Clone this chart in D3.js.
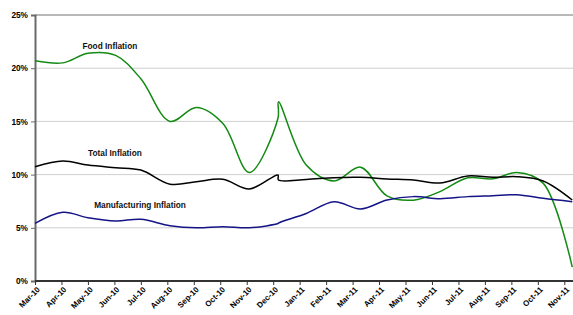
<!DOCTYPE html>
<html><head><meta charset="utf-8">
<script src="https://cdn.jsdelivr.net/npm/d3@7"></script>
<style>body{margin:0;background:#fff}svg{display:block}text{font-family:"Liberation Sans",Arial,sans-serif;font-weight:bold}</style>
</head><body><svg id="c" width="573" height="315"></svg>
<script>
const months = ["Mar-10","Apr-10","May-10","Jun-10","Jul-10","Aug-10","Sep-10","Oct-10","Nov-10","Dec-10","Jan-11","Feb-11","Mar-11","Apr-11","May-11","Jun-11","Jul-11","Aug-11","Sep-11","Oct-11","Nov-11"];
// observation positions (in months from Mar-10)
const obsPos = [0, 1.05, 2, 3.05, 4, 5.1, 6.1, 7.1, 8.1, 9.18, 9.2, 10.25, 11.3, 12.3, 13.3, 14.3, 15.3, 16.35, 17.3, 18.2, 19.2, 20.3];
const foodInflation  = [20.7, 20.5, 21.4, 21.2, 19.0, 15.0, 16.3, 14.8, 10.2, 15.3, 16.85, 10.9, 9.4, 10.7, 8.0, 7.6, 8.4, 9.7, 9.6, 10.2, 9.2, 1.3];
const totalInflation = [10.74, 11.28, 10.9, 10.65, 10.43, 9.1, 9.33, 9.56, 8.65, 9.96, 9.49, 9.55, 9.71, 9.74, 9.59, 9.49, 9.21, 9.87, 9.74, 9.8, 9.4, 7.61];
const manufInflation = [5.42, 6.46, 5.95, 5.64, 5.8, 5.2, 5.0, 5.1, 5.0, 5.4, 5.45, 6.35, 7.45, 6.77, 7.61, 7.93, 7.73, 7.93, 8.02, 8.11, 7.77, 7.45];
const yTicks = [0, 5, 10, 15, 20, 25];
const seriesNames = ["Food Inflation", "Total Inflation", "Manufacturing Inflation"];
const seriesColors = ["#138a13", "#000000", "#141487"];

const svg = d3.select("#c");
const x = d3.scaleLinear().domain([0, 20]).range([35, 564.3]);
const y = d3.scaleLinear().domain([0, 25]).range([281, 15]);

// gridlines
svg.append("g").selectAll("line").data(yTicks.filter(d => d > 0)).join("line")
  .attr("x1", 35).attr("x2", 573)
  .attr("y1", d => y(d)).attr("y2", d => y(d))
  .attr("stroke", d => d === 25 ? "#a0a0a0" : "#cfcfcf").attr("stroke-width", d => d === 25 ? 1.5 : 1);

// y axis
const yAxis = d3.axisLeft(y).tickValues(yTicks).tickFormat(d => d + "%").tickSize(4).tickPadding(3);
const gy = svg.append("g").attr("transform", "translate(35,0)").call(yAxis);
gy.select(".domain").attr("stroke", "#6a6a6a").attr("stroke-width", 2);
gy.selectAll(".tick line").attr("stroke", "#6a6a6a");
gy.selectAll("text").attr("font-size", "8.3px").attr("fill", "#000").style("font-family", "'Liberation Sans',Arial,sans-serif").style("font-weight", "bold");

// x axis
const xAxis = d3.axisBottom(x).tickValues(d3.range(months.length)).tickFormat(i => months[i]).tickSize(4).tickSizeOuter(0);
const gx = svg.append("g").attr("transform", "translate(0,281)").call(xAxis);
gx.select(".domain").attr("stroke", "#333").attr("stroke-width", 2).attr("d", "M35,0H573");
gx.selectAll(".tick line").attr("stroke", "#333");
gx.selectAll("text")
  .attr("font-size", "8px").attr("fill", "#000")
  .style("font-family", "'Liberation Sans',Arial,sans-serif").style("font-weight", "bold")
  .attr("text-anchor", "end").attr("dy", "0.35em")
  .attr("transform", "translate(3,7) rotate(-45)").attr("x", 0).attr("y", 0);

// lines
const series = [foodInflation, totalInflation, manufInflation];
const line = d3.line().x((d, i) => x(obsPos[i])).y(d => y(d)).curve(d3.curveCatmullRom.alpha(0.5));
svg.append("g").selectAll("path").data(series).join("path")
  .attr("d", d => line(d)).attr("fill", "none")
  .attr("stroke", (d, i) => seriesColors[i]).attr("stroke-width", 1.5);

// series labels
const labelAt = [[2.83, 21.8], [3.02, 11.72], [3.97, 6.86]];
svg.append("g").selectAll("text").data(seriesNames).join("text")
  .attr("x", (d, i) => x(labelAt[i][0])).attr("y", (d, i) => y(labelAt[i][1]))
  .attr("text-anchor", "middle").attr("font-size", "8.3px").attr("fill", "#111")
  .text(d => d);
</script>
</body></html>
